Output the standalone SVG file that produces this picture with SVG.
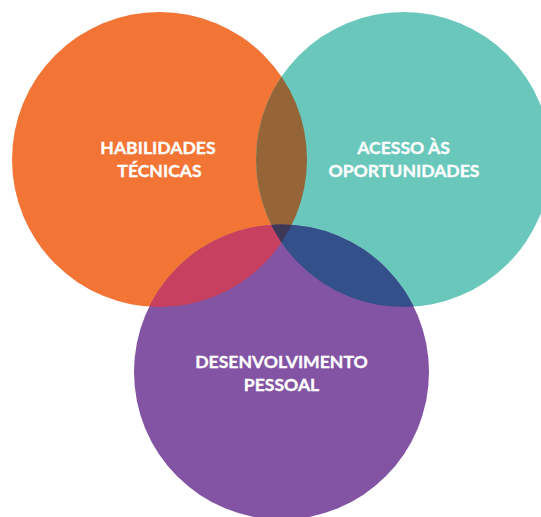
<svg xmlns="http://www.w3.org/2000/svg" width="541" height="517" viewBox="0 0 541 517">
<style>
.lbl{font-family:"Lato","Open Sans","Liberation Sans",sans-serif;font-weight:700;font-size:17.6px;fill:#ffffff;stroke:#ffffff;stroke-width:0.35px;text-anchor:middle}
</style>
<defs>
<clipPath id="cO"><circle cx="159.5" cy="159.5" r="147.5"/></clipPath>
<clipPath id="cT"><circle cx="403.5" cy="159.5" r="147.5"/></clipPath>
<clipPath id="cP"><circle cx="281.5" cy="372" r="147.5"/></clipPath>
</defs>
<rect width="541" height="517" fill="#ffffff"/>
<g id="node-habilidades">
<circle cx="159.5" cy="159.5" r="147.5" fill="#F27536"/>
</g>
<g id="node-acesso">
<circle cx="403.5" cy="159.5" r="147.5" fill="#6AC7BC"/>
</g>
<g id="node-desenvolvimento">
<circle cx="281.5" cy="372" r="147.5" fill="#8254A3"/>
</g>
<g id="overlaps">
<circle cx="403.5" cy="159.5" r="147.5" fill="#956437" clip-path="url(#cO)"/>
<circle cx="281.5" cy="372" r="147.5" fill="#C8405F" clip-path="url(#cO)"/>
<circle cx="281.5" cy="372" r="147.5" fill="#34508B" clip-path="url(#cT)"/>
<g clip-path="url(#cO)"><circle cx="281.5" cy="372" r="147.5" fill="#3E3858" clip-path="url(#cT)"/></g>
</g>
<g id="labels">
<text class="lbl" x="158" y="154">HABILIDADES</text>
<text class="lbl" x="159.5" y="177">TÉCNICAS</text>
<text class="lbl" x="403.5" y="154">ACESSO ÀS</text>
<text class="lbl" x="404" y="176.5">OPORTUNIDADES</text>
<text class="lbl" x="281.5" y="368">DESENVOLVIMENTO</text>
<text class="lbl" x="281.5" y="391">PESSOAL</text>
</g>
</svg>
